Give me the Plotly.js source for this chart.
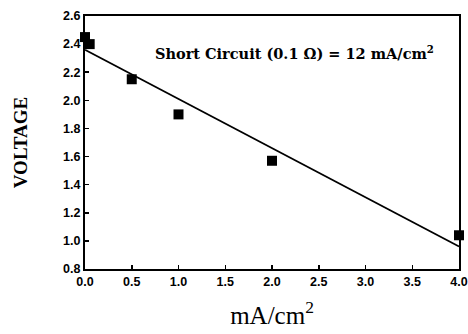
<!DOCTYPE html>
<html><head><meta charset="utf-8">
<script src="https://cdn.plot.ly/plotly-3.0.1.min.js"></script>
<style>body{margin:0;background:#fff}#c{width:468px;height:334px}</style>
</head><body><div id="c"></div>
<script>
const current = [0.0, 0.05, 0.5, 1.0, 2.0, 4.0];
const voltage = [2.45, 2.40, 2.15, 1.90, 1.57, 1.04];
const fitX = [0.0, 4.0];
const fitY = [2.36, 0.96];
const xTicks = [0, 0.5, 1, 1.5, 2, 2.5, 3, 3.5, 4];
const xTickText = ['0.0','0.5','1.0','1.5','2.0','2.5','3.0','3.5','4.0'];
const yTicks = [0.8,1.0,1.2,1.4,1.6,1.8,2.0,2.2,2.4,2.6];
const yTickText = ['0.8','1.0','1.2','1.4','1.6','1.8','2.0','2.2','2.4','2.6'];

const traces = [
  {x: fitX, y: fitY, mode: 'lines', line: {color: '#000', width: 1.6}, hoverinfo: 'skip'},
  {x: current, y: voltage, mode: 'markers', marker: {symbol: 'square', size: 10, color: '#000'}, cliponaxis: false}
];
const layout = {
  width: 468, height: 334,
  margin: {l: 85, r: 9, t: 16, b: 65},
  paper_bgcolor: '#fff', plot_bgcolor: '#fff',
  showlegend: false,
  xaxis: {
    range: [0, 4], tickvals: xTicks, ticktext: xTickText,
    ticks: 'inside', ticklen: 4, tickwidth: 1.5, tickcolor: '#000',
    showline: true, linewidth: 2, linecolor: '#000', mirror: true,
    showgrid: false, zeroline: false,
    tickfont: {family: 'Liberation Sans', size: 12.5, color: '#000', weight: 'bold'},
    title: {text: 'mA/cm<sup>2</sup>', font: {family: 'Liberation Serif', size: 25, color: '#000'}, standoff: 18}
  },
  yaxis: {
    range: [0.8, 2.6], tickvals: yTicks, ticktext: yTickText,
    ticks: 'inside', ticklen: 4, tickwidth: 1.5, tickcolor: '#000',
    showline: true, linewidth: 2, linecolor: '#000', mirror: true,
    showgrid: false, zeroline: false,
    tickfont: {family: 'Liberation Sans', size: 12.5, color: '#000', weight: 'bold'},
    title: {text: '<b>VOLTAGE</b>', font: {family: 'Liberation Serif', size: 19, color: '#000'}, standoff: 30}
  },
  annotations: [{
    xref: 'paper', yref: 'paper', x: 0.56, y: 0.855, xanchor: 'center', yanchor: 'middle',
    text: '<b>Short Circuit (0.1 Ω) = 12 mA/cm<sup>2</sup></b>', showarrow: false,
    font: {family: 'DejaVu Serif', size: 14.5, color: '#000'}
  }]
};
Plotly.newPlot('c', traces, layout, {staticPlot: true, displayModeBar: false});
</script></body></html>
